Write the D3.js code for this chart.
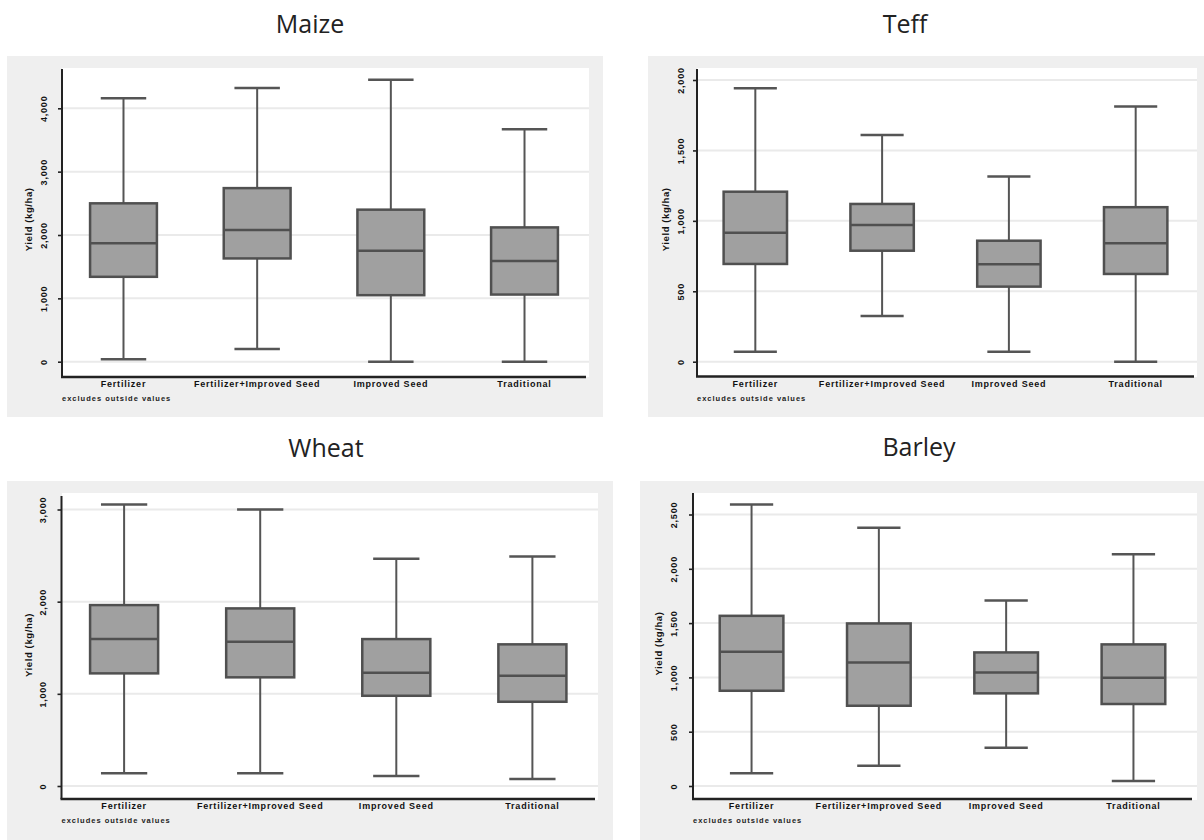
<!DOCTYPE html>
<html>
<head>
<meta charset="utf-8">
<script src="https://cdn.jsdelivr.net/npm/d3@7"></script>
<style>
  body { margin: 0; background: #ffffff; }
  svg { display: block; }
</style>
</head>
<body>
<main></main>
<script>
// categories shared by every panel
var categories = ["Fertilizer", "Fertilizer+Improved Seed", "Improved Seed", "Traditional"];
var note = "excludes outside values";
var yTitle = "Yield (kg/ha)";

// five-number summaries: [min, q1, median, q3, max]
var maizeStats = [
  [40, 1340, 1870, 2500, 4160],
  [200, 1630, 2080, 2740, 4320],
  [0, 1050, 1750, 2400, 4450],
  [0, 1060, 1590, 2120, 3670]
];
var teffStats = [
  [70, 694, 916, 1207, 1942],
  [325, 788, 971, 1120, 1610],
  [70, 533, 692, 859, 1314],
  [0, 623, 841, 1097, 1811]
];
var wheatStats = [
  [138, 1222, 1594, 1963, 3055],
  [138, 1179, 1565, 1927, 3001],
  [108, 979, 1229, 1594, 2465],
  [76, 914, 1196, 1537, 2491]
];
var barleyStats = [
  [117, 877, 1236, 1567, 2592],
  [187, 739, 1138, 1497, 2377],
  [352, 853, 1046, 1230, 1709],
  [46, 755, 997, 1304, 2135]
];

var maizeTicks = [0, 1000, 2000, 3000, 4000];
var teffTicks = [0, 500, 1000, 1500, 2000];
var wheatTicks = [0, 1000, 2000, 3000];
var barleyTicks = [0, 500, 1000, 1500, 2000, 2500];

// panel layout (pixels)
var panels = [
  { title: "Maize", stats: maizeStats, ticks: maizeTicks,
    bg: [7, 56, 603, 417], white: [62, 68, 589, 377],
    axisX: 62, axisTop: 69, axisBottom: 377, axisRight: 586,
    zeroY: 361.7, topY: 108.3, titleX: 310, titleY: 33, tickX: 47, titleAxisX: 32 },
  { title: "Teff", stats: teffStats, ticks: teffTicks,
    bg: [648, 56, 1204, 417], white: [697, 68, 1197, 377],
    axisX: 697, axisTop: 69, axisBottom: 376.5, axisRight: 1194,
    zeroY: 361.7, topY: 80, titleX: 905, titleY: 33, tickX: 684, titleAxisX: 669 },
  { title: "Wheat", stats: wheatStats, ticks: wheatTicks,
    bg: [7, 481, 613, 840], white: [62, 493, 598, 800],
    axisX: 61.5, axisTop: 496, axisBottom: 799, axisRight: 595,
    zeroY: 786, topY: 509.5, titleX: 326, titleY: 457, tickX: 46, titleAxisX: 32 },
  { title: "Barley", stats: barleyStats, ticks: barleyTicks,
    bg: [640, 481, 1204, 840], white: [693, 493, 1197, 800],
    axisX: 693, axisTop: 493, axisBottom: 799, axisRight: 1192,
    zeroY: 786, topY: 514.5, titleX: 919, titleY: 456, tickX: 677, titleAxisX: 662 }
];

var font = "'Liberation Sans', Arial, sans-serif";

var svg = d3.select("main")
    .append("svg")
    .attr("width", 1204)
    .attr("height", 840);

panels.forEach(function (p) {
    var g = svg.append("g").attr("class", "panel");

    g.append("rect")
        .attr("x", p.bg[0]).attr("y", p.bg[1])
        .attr("width", p.bg[2] - p.bg[0]).attr("height", p.bg[3] - p.bg[1])
        .attr("fill", "#efefef");

    g.append("rect")
        .attr("x", p.white[0]).attr("y", p.white[1])
        .attr("width", p.white[2] - p.white[0]).attr("height", p.white[3] - p.white[1])
        .attr("fill", "#ffffff");

    g.append("text")
        .attr("x", p.titleX).attr("y", p.titleY)
        .attr("text-anchor", "middle")
        .attr("font-family", "'Open Sans', sans-serif")
        .attr("font-size", 25)
        .attr("fill", "#222")
        .text(p.title);

    var topTick = p.ticks[p.ticks.length - 1];
    var y = d3.scaleLinear().domain([0, topTick]).range([p.zeroY, p.topY]);
    var x = d3.scalePoint().domain(categories).range([p.axisX, p.axisRight]).padding(0.46);
    var step = x.step();
    var boxW = step * 0.5;
    var capW = step * 0.34;

    // grid lines
    g.append("g").selectAll("line").data(p.ticks).enter()
        .append("line")
        .attr("x1", p.axisX).attr("x2", p.white[2])
        .attr("y1", function (d) { return y(d); })
        .attr("y2", function (d) { return y(d); })
        .attr("stroke", "#eaeaea")
        .attr("stroke-width", 2);

    // y axis ticks and labels
    var yAxis = d3.axisLeft(y).tickValues(p.ticks).tickSize(4).tickFormat(d3.format(","));
    var ag = g.append("g")
        .attr("transform", "translate(" + p.axisX + ",0)")
        .call(yAxis);
    ag.select(".domain").remove();
    ag.selectAll(".tick line").attr("stroke", "#222").attr("stroke-width", 1.6);
    ag.selectAll(".tick text")
        .attr("x", null).attr("dy", null)
        .attr("text-anchor", "middle")
        .attr("transform", "translate(" + (p.tickX - p.axisX) + ",0) rotate(-90)")
        .attr("font-family", font)
        .attr("font-size", 9)
        .attr("letter-spacing", 0.8)
        .attr("font-weight", "bold")
        .attr("fill", "#111");

    g.append("text")
        .attr("transform", "translate(" + p.titleAxisX + "," + ((p.zeroY + p.axisTop) / 2 + 4) + ") rotate(-90)")
        .attr("text-anchor", "middle")
        .attr("font-family", font)
        .attr("font-size", 9.5)
        .attr("letter-spacing", 0.6)
        .attr("font-weight", "bold")
        .attr("fill", "#111")
        .text(yTitle);

    // axis lines
    g.append("line")
        .attr("x1", p.axisX).attr("x2", p.axisX)
        .attr("y1", p.axisTop).attr("y2", p.axisBottom)
        .attr("stroke", "#222").attr("stroke-width", 2);
    g.append("line")
        .attr("x1", p.axisX - 1).attr("x2", p.axisRight)
        .attr("y1", p.axisBottom).attr("y2", p.axisBottom)
        .attr("stroke", "#222").attr("stroke-width", 2.5);

    // boxes
    var boxes = g.append("g").selectAll("g").data(p.stats).enter()
        .append("g")
        .attr("transform", function (d, i) { return "translate(" + x(categories[i]) + ",0)"; });

    boxes.append("line")
        .attr("x1", 0).attr("x2", 0)
        .attr("y1", function (d) { return y(d[4]); })
        .attr("y2", function (d) { return y(d[0]); })
        .attr("stroke", "#555").attr("stroke-width", 2);

    boxes.selectAll(".cap").data(function (d) { return [d[0], d[4]]; }).enter()
        .append("line")
        .attr("class", "cap")
        .attr("x1", -capW / 2).attr("x2", capW / 2)
        .attr("y1", function (v) { return y(v); })
        .attr("y2", function (v) { return y(v); })
        .attr("stroke", "#555").attr("stroke-width", 2.5);

    boxes.append("rect")
        .attr("x", -boxW / 2)
        .attr("width", boxW)
        .attr("y", function (d) { return y(d[3]); })
        .attr("height", function (d) { return y(d[1]) - y(d[3]); })
        .attr("fill", "#a0a0a0")
        .attr("stroke", "#505050")
        .attr("stroke-width", 2.5);

    boxes.append("line")
        .attr("x1", -boxW / 2).attr("x2", boxW / 2)
        .attr("y1", function (d) { return y(d[2]); })
        .attr("y2", function (d) { return y(d[2]); })
        .attr("stroke", "#505050").attr("stroke-width", 2.5);

    // category labels
    g.append("g").selectAll("text").data(categories).enter()
        .append("text")
        .attr("x", function (d) { return x(d); })
        .attr("y", p.axisBottom + 10)
        .attr("text-anchor", "middle")
        .attr("font-family", font)
        .attr("font-size", 9)
        .attr("letter-spacing", 0.8)
        .attr("font-weight", "bold")
        .attr("fill", "#111")
        .text(function (d) { return d; });

    g.append("text")
        .attr("x", p.axisX)
        .attr("y", p.axisBottom + 24)
        .attr("font-family", font)
        .attr("font-size", 7.5)
        .attr("letter-spacing", 1)
        .attr("font-weight", "bold")
        .attr("fill", "#222")
        .text(note);
});
</script>
</body>
</html>
